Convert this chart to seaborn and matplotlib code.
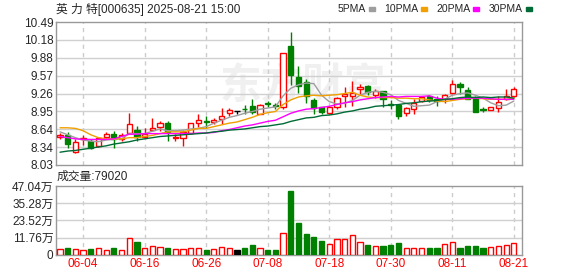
import numpy as np
import pandas as pd
import seaborn as sns
import matplotlib
matplotlib.use('Agg')
import matplotlib.pyplot as plt

# 英力特 000635 日K (2025-05-29 ~ 2025-08-21)
open_ = [8.52, 8.55, 8.26, 8.47, 8.44, 8.35, 8.51, 8.57, 8.47, 8.58,
         8.64, 8.51, 8.63, 8.69, 8.76, 8.49, 8.50, 8.58, 8.76, 8.79,
         8.77, 8.82, 8.92, 8.96, 9.00, 9.05, 8.91, 9.09, 9.07, 9.03,
         10.08, 9.54, 9.46, 9.15, 9.02, 8.92, 9.03, 9.21, 9.22, 9.33,
         9.39, 9.23, 9.30, 9.08, 9.07, 8.92, 9.00, 9.13, 9.21, 9.16,
         9.16, 9.27, 9.42, 9.32, 9.20, 9.00, 8.98, 9.01, 9.16, 9.21]
high = [8.58, 8.60, 8.47, 8.55, 8.47, 8.52, 8.59, 8.62, 8.58, 8.92,
        8.70, 8.67, 8.84, 8.79, 8.78, 8.57, 8.64, 8.76, 8.90, 8.88,
        8.83, 9.01, 9.01, 8.96, 9.07, 9.17, 9.08, 9.13, 9.10, 9.95,
        10.31, 9.73, 9.51, 9.19, 9.03, 9.04, 9.20, 9.37, 9.47, 9.43,
        9.41, 9.33, 9.31, 9.15, 9.07, 9.03, 9.16, 9.21, 9.24, 9.21,
        9.26, 9.50, 9.46, 9.37, 9.21, 9.03, 9.02, 9.21, 9.33, 9.37]
low = [8.47, 8.33, 8.24, 8.37, 8.31, 8.34, 8.47, 8.32, 8.45, 8.57,
       8.44, 8.50, 8.61, 8.61, 8.45, 8.44, 8.35, 8.56, 8.68, 8.67,
       8.74, 8.74, 8.88, 8.90, 8.91, 8.90, 8.90, 9.02, 9.00, 9.00,
       9.40, 9.27, 9.10, 8.90, 8.91, 8.91, 9.00, 9.03, 9.04, 9.26,
       9.23, 9.18, 9.03, 8.99, 8.82, 8.88, 8.91, 9.11, 9.11, 9.04,
       9.10, 9.26, 9.26, 9.16, 8.95, 8.95, 8.97, 8.95, 9.14, 9.20]
close = [8.55, 8.39, 8.43, 8.49, 8.32, 8.50, 8.57, 8.48, 8.55, 8.74,
         8.52, 8.57, 8.67, 8.76, 8.60, 8.52, 8.60, 8.76, 8.81, 8.77,
         8.80, 8.88, 8.97, 8.96, 8.99, 8.94, 9.07, 9.08, 9.05, 9.95,
         9.58, 9.39, 9.21, 9.01, 8.95, 9.03, 9.19, 9.26, 9.27, 9.38,
         9.28, 9.31, 9.17, 9.07, 8.87, 9.01, 9.10, 9.20, 9.14, 9.13,
         9.24, 9.43, 9.38, 9.17, 8.95, 8.98, 9.02, 9.12, 9.21, 9.33]
# 成交量 (万手)
volume = [3.9, 4.8, 3.9, 3.2, 4.1, 4.5, 3.2, 4.8, 3.2, 11.4,
          8.9, 4.5, 5.9, 5.2, 4.8, 4.1, 3.9, 4.5, 4.5, 3.4,
          3.9, 5.2, 4.5, 3.2, 4.5, 6.8, 4.5, 3.2, 3.4, 14.8,
          43.6, 21.8, 14.3, 12.3, 9.5, 7.3, 10.9, 10.9, 13.6, 8.6,
          6.8, 5.9, 6.1, 6.8, 8.2, 4.8, 4.8, 4.8, 4.8, 4.8,
          7.3, 8.6, 4.8, 6.1, 6.1, 4.8, 5.5, 6.1, 6.8, 7.9]

ma5 = [8.60, 8.55, 8.50, 8.46, 8.44, 8.43, 8.46, 8.47, 8.48, 8.57,
       8.57, 8.57, 8.61, 8.65, 8.62, 8.62, 8.63, 8.65, 8.66, 8.69,
       8.75, 8.80, 8.85, 8.88, 8.92, 8.95, 8.99, 9.01, 9.03, 9.22,
       9.35, 9.41, 9.44, 9.43, 9.23, 9.12, 9.08, 9.09, 9.14, 9.23,
       9.28, 9.30, 9.28, 9.24, 9.14, 9.09, 9.04, 9.05, 9.06, 9.12,
       9.16, 9.23, 9.26, 9.27, 9.23, 9.18, 9.10, 9.05, 9.06, 9.13]
ma10 = [8.67, 8.67, 8.66, 8.62, 8.55, 8.50, 8.48, 8.48, 8.48, 8.50,
        8.50, 8.52, 8.54, 8.57, 8.60, 8.60, 8.60, 8.63, 8.66, 8.66,
        8.69, 8.72, 8.75, 8.77, 8.81, 8.85, 8.90, 8.93, 8.95, 9.07,
        9.15, 9.20, 9.22, 9.23, 9.22, 9.23, 9.24, 9.26, 9.28, 9.23,
        9.20, 9.19, 9.19, 9.19, 9.18, 9.18, 9.17, 9.17, 9.15, 9.13,
        9.12, 9.14, 9.16, 9.17, 9.18, 9.17, 9.16, 9.16, 9.16, 9.18]
ma20 = [8.52, 8.50, 8.48, 8.47, 8.47, 8.47, 8.47, 8.48, 8.52, 8.56,
        8.56, 8.57, 8.57, 8.57, 8.57, 8.57, 8.57, 8.57, 8.58, 8.58,
        8.59, 8.62, 8.64, 8.67, 8.70, 8.72, 8.75, 8.78, 8.80, 8.86,
        8.92, 8.96, 8.99, 9.00, 9.02, 9.04, 9.07, 9.10, 9.12, 9.15,
        9.17, 9.19, 9.20, 9.21, 9.20, 9.21, 9.21, 9.21, 9.22, 9.18,
        9.16, 9.16, 9.17, 9.18, 9.18, 9.18, 9.17, 9.16, 9.16, 9.16]
ma30 = [8.25, 8.27, 8.28, 8.30, 8.32, 8.34, 8.36, 8.39, 8.41, 8.43,
        8.46, 8.48, 8.50, 8.52, 8.53, 8.54, 8.55, 8.56, 8.57, 8.58,
        8.60, 8.61, 8.63, 8.64, 8.65, 8.67, 8.69, 8.70, 8.72, 8.74,
        8.78, 8.81, 8.84, 8.85, 8.88, 8.89, 8.91, 8.94, 8.96, 8.99,
        9.01, 9.04, 9.05, 9.06, 9.07, 9.09, 9.10, 9.12, 9.13, 9.14,
        9.16, 9.17, 9.19, 9.20, 9.19, 9.20, 9.19, 9.20, 9.20, 9.18]

price_ticks = ['8.03', '8.34', '8.64', '8.95', '9.26', '9.57', '9.88', '10.18', '10.49']
vol_ticks = ['0', '11.76万', '23.52万', '35.28万', '47.04万']
tick_idx = [3, 11, 19, 27, 35, 43, 51, 59]

dates = pd.bdate_range('2025-05-29', '2025-08-21').drop(pd.Timestamp('2025-06-02'))

sns.set_style('white')
plt.rcParams['font.family'] = ['Liberation Sans', 'Noto Sans CJK SC', 'DejaVu Sans']

df = pd.DataFrame({'open': open_, 'high': high, 'low': low, 'close': close, 'vol': volume})
df['x'] = np.arange(len(df))
up = df['close'] > df['open']
flat = df['close'] == df['open']
col = np.where(up, '#ff0000', np.where(flat, '#000000', '#008000'))
face = np.where(up, '#ffffff', col)

fig = plt.figure(figsize=(5.78, 2.76), dpi=100)
ax = fig.add_axes([0.0969, 0.4022, 0.8068, 0.518])
axv = fig.add_axes([0.0969, 0.0761, 0.8068, 0.25])

# 水印
ax.text(0.53, 0.55, '东方财富', transform=ax.transAxes, fontsize=30, color='#f0f0f0',
        ha='center', va='center', zorder=0.5, fontweight='bold')

# K线
ax.vlines(df['x'], df['low'], df['high'], colors=col, lw=1, zorder=2)
body = (df['close'] - df['open']).abs().clip(lower=0.006)
ax.bar(df['x'], body, bottom=df[['open', 'close']].min(axis=1), width=0.68,
       color=face, edgecolor=col, lw=1, zorder=3)

# 均线
ma = pd.DataFrame({'x': df['x'], '5PMA': ma5, '10PMA': ma10, '20PMA': ma20, '30PMA': ma30})
ma_long = ma.melt(id_vars='x', var_name='ma', value_name='v')
pal = {'5PMA': '#9e9e9e', '10PMA': '#f0a000', '20PMA': '#ff00ff', '30PMA': '#006b36'}
sns.lineplot(data=ma_long, x='x', y='v', hue='ma', palette=pal, legend=False, lw=1,
             ax=ax, zorder=4)

# 成交量
axv.bar(df['x'], df['vol'], width=0.68, color=face, edgecolor=col, lw=1, zorder=3)

for a in (ax, axv):
    a.set_xlim(-0.52, 60.1)
    a.set_xlabel('')
    a.set_ylabel('')
    for s in a.spines.values():
        s.set_color('#999999')
        s.set_linewidth(1)
    for t in tick_idx:
        a.axvline(t, color='#cccccc', lw=1, ls=(0, (3, 3)), zorder=1)
    a.tick_params(length=0, labelsize=8.5, pad=2)

ax.set_ylim(8.03, 10.49)
pv = np.linspace(8.03, 10.49, 9)
ax.set_yticks(pv)
ax.set_yticklabels(price_ticks)
for v in pv[1:-1]:
    ax.axhline(v, color='#d0d0d0', lw=1, zorder=1)
ax.set_xticks([])

axv.set_ylim(0, 47.04)
vv = np.linspace(0, 47.04, 5)
axv.set_yticks(vv)
axv.set_yticklabels(vol_ticks)
for v in vv[1:-1]:
    axv.axhline(v, color='#d0d0d0', lw=1, zorder=1)
axv.set_xticks(tick_idx)
axv.set_xticklabels([dates[i].strftime('%m-%d') for i in tick_idx], color='#ff0000', fontsize=8.5)

fig.text(56 / 578, 1 - 9 / 276, '英 力 特[000635] 2025-08-21 15:00', fontsize=8.5, va='center')
fig.text(57 / 578, 1 - 177 / 276, '成交量:79020', fontsize=8.5, va='center')

# 图例: 文字后面跟一个小色块
fig.canvas.draw()
r = fig.canvas.get_renderer()
lx = 338
for name, c in pal.items():
    t = fig.text(lx / 578, 1 - 9 / 276, name, fontsize=7.5, va='center')
    w = t.get_window_extent(r).width
    fig.patches.append(plt.Rectangle(((lx + w + 3) / 578, 1 - 10.5 / 276), 6 / 578, 3 / 276,
                                     transform=fig.transFigure, color=c, figure=fig))
    lx = lx + w + 3 + 6 + 9

fig.savefig('out.png', dpi=100)
